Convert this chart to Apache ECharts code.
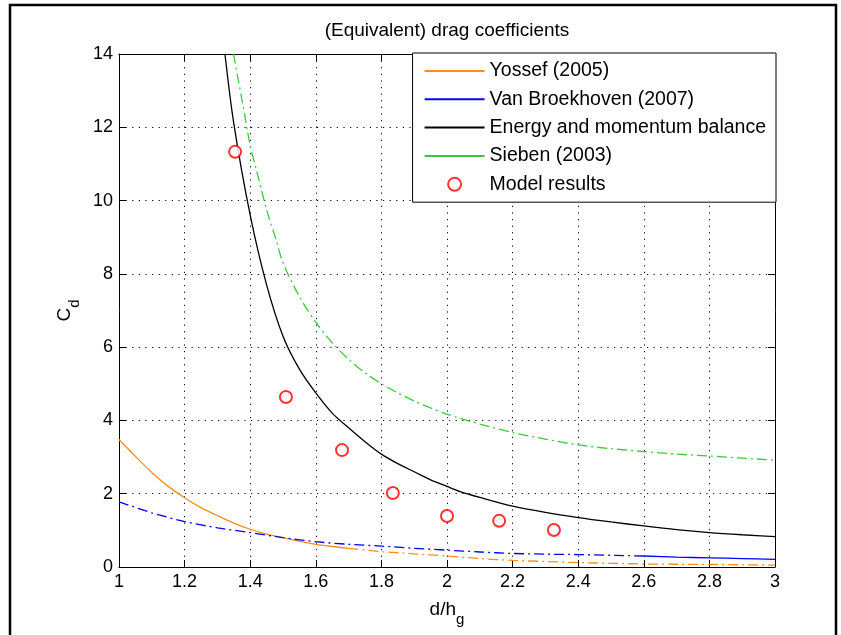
<!DOCTYPE html>
<html><head><meta charset="utf-8">
<script src="https://cdn.jsdelivr.net/npm/echarts@6/dist/echarts.min.js"></script>
<style>html,body{margin:0;padding:0;background:#fff}#c{width:841px;height:635px}</style>
</head><body><div id="c"></div>
<script>
// ---- data ----
const titleText = '(Equivalent) drag coefficients';
const legendNames = ['Yossef (2005)', 'Van Broekhoven (2007)', 'Energy and momentum balance', 'Sieben (2003)', 'Model results'];

const xMin = 1, xMax = 3, xStep = 0.2;
const yMin = 0, yMax = 14, yStep = 2;

const yossefX = [1.0, 1.05, 1.1, 1.15, 1.2, 1.25, 1.3, 1.35, 1.4, 1.45, 1.5, 1.55, 1.6, 1.65, 1.7, 1.8, 1.9, 2.0, 2.1, 2.2, 2.3, 2.4, 2.5, 2.6, 2.7, 2.8, 2.9, 3.0];
const yossefY = [3.48, 3.02, 2.58, 2.2, 1.89, 1.62, 1.4, 1.2, 1.03, 0.9, 0.8, 0.7, 0.62, 0.56, 0.51, 0.42, 0.36, 0.3, 0.23, 0.18, 0.15, 0.12, 0.1, 0.08, 0.075, 0.07, 0.06, 0.05];

const broekX = [1.0, 1.1, 1.2, 1.3, 1.4, 1.5, 1.6, 1.7, 1.8, 1.9, 2.0, 2.1, 2.2, 2.3, 2.4, 2.5, 2.6, 2.7, 2.8, 2.9, 3.0];
const broekY = [1.78, 1.48, 1.24, 1.07, 0.94, 0.8, 0.69, 0.62, 0.57, 0.51, 0.46, 0.41, 0.37, 0.35, 0.34, 0.32, 0.3, 0.27, 0.25, 0.23, 0.21];

const energyX = [1.323, 1.35, 1.4, 1.45, 1.5, 1.55, 1.6, 1.65, 1.7, 1.75, 1.8, 1.85, 1.9, 1.95, 2.0, 2.04, 2.1, 2.2, 2.3, 2.4, 2.5, 2.6, 2.7, 2.8, 2.9, 3.0];
const energyY = [14.0, 12.1, 9.6, 7.7, 6.3, 5.4, 4.75, 4.2, 3.8, 3.42, 3.08, 2.82, 2.6, 2.38, 2.2, 2.06, 1.9, 1.66, 1.49, 1.35, 1.23, 1.12, 1.02, 0.94, 0.88, 0.83];

const siebenX = [1.349, 1.38, 1.4, 1.42, 1.45, 1.48, 1.5, 1.55, 1.6, 1.65, 1.7, 1.75, 1.8, 1.85, 1.9, 1.95, 2.0, 2.1, 2.2, 2.3, 2.4, 2.5, 2.6, 2.7, 2.8, 2.9, 3.0];
const siebenY = [14.0, 12.5, 11.5, 10.8, 9.75, 8.9, 8.3, 7.38, 6.68, 6.12, 5.67, 5.3, 5.0, 4.75, 4.53, 4.34, 4.17, 3.9, 3.67, 3.49, 3.33, 3.23, 3.15, 3.08, 3.03, 2.97, 2.92];

const modelX = [1.354, 1.509, 1.68, 1.835, 2.0, 2.159, 2.326];
const modelY = [11.33, 4.64, 3.19, 2.02, 1.39, 1.26, 1.01];

// ---- styling ----
const FONT = 'Liberation Sans, Arial, sans-serif';
const dashDot = [10, 4, 2, 4];
const pairs = (xs, ys) => xs.map((x, i) => [x, ys[i]]);
const upTo = (xs, ys, lim) => pairs(xs, ys).filter(p => p[0] <= lim + 1e-9);
const from = (xs, ys, lim) => pairs(xs, ys).filter(p => p[0] >= lim - 1e-9);

const chart = echarts.init(document.getElementById('c'), null, {renderer: 'canvas'});

const axisCommon = {
  axisLine: {show: true, onZero: false, lineStyle: {color: '#000', width: 1}},
  axisTick: {show: true, inside: true, length: 7, lineStyle: {color: '#000'}},
};

const lineBase = (name, data, color, type) => ({
  name, type: 'line', data, symbol: 'none', showSymbol: false,
  smooth: 0.3,
  lineStyle: {color, width: 1.3, type}, itemStyle: {color}, z: 3, animation: false
});

const legendData = legendNames.map((n, i) => i < 4
  ? {name: n, itemStyle: {opacity: 0}, lineStyle: {type: 'solid'}}
  : {name: n});

chart.setOption({
  animation: false,
  backgroundColor: '#fff',
  textStyle: {fontFamily: FONT},
  title: {
    text: titleText, left: 447, top: 21, textAlign: 'center', padding: 0,
    textStyle: {fontFamily: FONT, fontSize: 19, fontWeight: 'normal', color: '#000'}
  },
  grid: {left: 119, right: 66, top: 54, bottom: 68, containLabel: false},
  legend: {
    orient: 'vertical', right: 65, top: 53, align: 'left',
    data: legendData,
    itemWidth: 60, itemHeight: 13, itemGap: 8.3,
    padding: [8, 10, 8, 11],
    backgroundColor: '#fff', borderColor: '#000', borderWidth: 1, borderRadius: 0,
    textStyle: {fontFamily: FONT, fontSize: 19.5, color: '#000', lineHeight: 20},
    selectedMode: false, z: 10
  },
  xAxis: [
    Object.assign({
      type: 'value', min: xMin, max: xMax, interval: xStep, position: 'bottom',
      name: '{a|d/h}{b|g}', nameLocation: 'middle', nameGap: 33,
      nameTextStyle: {rich: {
        a: {fontFamily: FONT, fontSize: 19, lineHeight: 20, color: '#000', verticalAlign: 'top'},
        b: {fontFamily: FONT, fontSize: 15, lineHeight: 16, color: '#000', verticalAlign: 'top', padding: [12, 0, 0, 0]}
      }},
      axisLabel: {show: true, margin: 6, fontFamily: FONT, fontSize: 18, color: '#000'},
      splitLine: {show: true, lineStyle: {color: '#000', type: [1.2, 5.4], width: 1}}
    }, axisCommon),
    Object.assign({
      type: 'value', min: xMin, max: xMax, interval: xStep, position: 'top',
      axisLabel: {show: false}, splitLine: {show: false}
    }, axisCommon)
  ],
  yAxis: [
    Object.assign({
      type: 'value', min: yMin, max: yMax, interval: yStep, position: 'left',
      name: '{a|C}{b|d}', nameLocation: 'middle', nameGap: 38, nameRotate: 90,
      nameTextStyle: {rich: {
        a: {fontFamily: FONT, fontSize: 19, lineHeight: 20, color: '#000', verticalAlign: 'top'},
        b: {fontFamily: FONT, fontSize: 15, lineHeight: 16, color: '#000', verticalAlign: 'top', padding: [12, 0, 0, 0]}
      }},
      axisLabel: {show: true, margin: 6, fontFamily: FONT, fontSize: 18, color: '#000'},
      splitLine: {show: true, lineStyle: {color: '#000', type: [1.2, 5.4], width: 1}}
    }, axisCommon),
    Object.assign({
      type: 'value', min: yMin, max: yMax, interval: yStep, position: 'right',
      axisLabel: {show: false}, splitLine: {show: false}
    }, axisCommon)
  ],
  series: [
    lineBase(legendNames[0], upTo(yossefX, yossefY, 1.7), '#ff8c1a', 'solid'),
    lineBase(legendNames[1], upTo(broekX, broekY, 2.6), '#0000ff', dashDot),
    lineBase(legendNames[2], pairs(energyX, energyY), '#000000', 'solid'),
    lineBase(legendNames[3], pairs(siebenX, siebenY), '#3cc83c', dashDot),
    {
      name: legendNames[4], type: 'scatter', data: pairs(modelX, modelY),
      symbol: 'emptyCircle', symbolSize: 12,
      itemStyle: {color: '#ff0000', borderColor: '#ff0000', borderWidth: 1.3},
      z: 4, animation: false
    },
    lineBase(legendNames[0], from(yossefX, yossefY, 1.7), '#ff8c1a', dashDot),
    lineBase(legendNames[1], from(broekX, broekY, 2.6), '#0000ff', 'solid')
  ],
  graphic: [{
    type: 'rect', silent: true, z: 100,
    shape: {x: 10, y: 5, width: 826, height: 640},
    style: {fill: 'none', stroke: '#000', lineWidth: 2.5}
  }]
});
</script>
</body></html>
